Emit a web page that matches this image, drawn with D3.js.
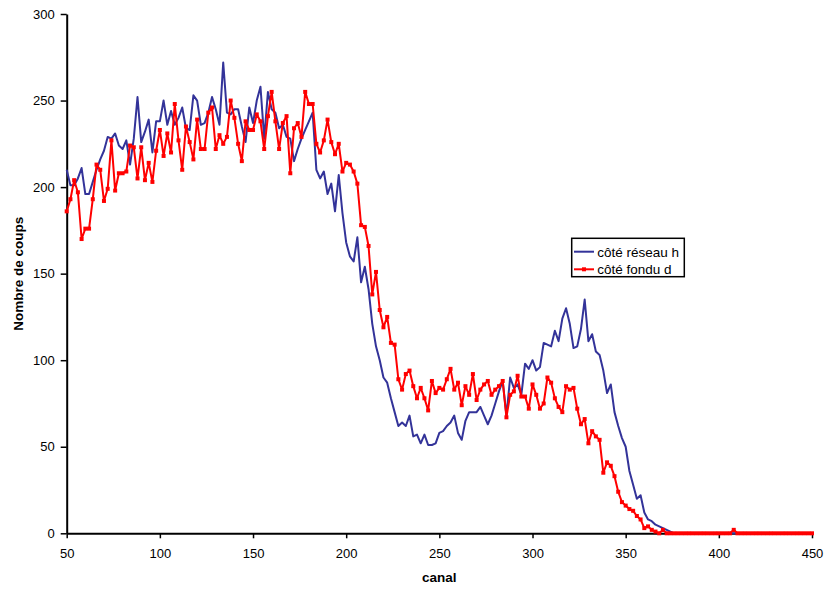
<!DOCTYPE html>
<html>
<head>
<meta charset="utf-8">
<script src="https://cdn.jsdelivr.net/npm/d3@7"></script>
<style>
  body { margin: 0; background: #fff; }
  svg { display: block; font-family: "Liberation Sans", Arial, sans-serif; }
</style>
</head>
<body>
<svg id="chart" width="826" height="590"></svg>
<script>
// channel (x) values: 50..450 step 2
const channels = d3.range(50, 451, 2);

// série "côté réseau h"
const reseauH = [
  210,201,201,205,211,196,196,203,210,216,
  221,229,228,231,224,222,227,213,228,252,
  226,232,239,220,238,238,250,236,244,236,
  240,246,234,233,253,250,236,237,243,252,
  245,236,272,243,242,245,245,235,226,246,
  237,250,258,228,255,245,243,234,236,229,
  228,215,222,228,233,238,243,210,205,209,
  196,202,186,207,185,168,160,157,171,145,
  154,141,121,108,100,90,87,78,70,62,
  64,62,68,56,57,52,57,51,51,52,
  58,59,62,64,68,58,54,65,70,70,
  70,73,68,63,68,75,82,88,68,90,
  84,86,80,98,95,100,94,96,110,109,
  108,117,111,124,130,121,107,108,118,135,
  111,115,105,103,94,81,86,70,62,55,
  50,36,28,20,22,12,8,7,5,4,
  3,2,1,0,0,0,0,0,0,0,
  0,0,0,0,0,0,0,0,0,0,
  0,0,0,0,0,0,0,0,0,0,
  0,0,0,0,0,0,0,0,0,0,
  0
];

// série "côté fondu d"
const fonduD = [
  186,193,204,197,170,176,176,193,213,210,
  192,199,227,198,208,208,209,224,223,205,
  223,204,214,203,221,233,218,231,220,248,
  227,210,235,226,216,239,222,222,243,246,
  222,230,225,229,250,240,225,215,238,233,
  233,242,238,222,241,255,238,222,237,241,
  208,234,237,229,255,248,248,225,220,227,
  239,226,219,225,209,214,213,209,202,178,
  177,166,138,151,129,119,125,110,109,89,
  83,92,94,85,78,84,78,71,88,81,
  84,83,89,95,83,87,74,85,80,92,
  77,83,86,88,80,83,85,88,67,80,
  82,91,79,79,72,86,80,72,75,90,
  87,78,73,70,85,83,84,72,63,66,
  52,59,56,54,35,41,39,33,24,18,
  16,14,13,10,8,3,4,2,1,0,
  2,0,0,0,0,0,0,0,0,0,
  0,0,0,0,0,0,0,0,0,2,
  0,0,0,0,0,0,0,0,0,0,
  0,0,0,0,0,0,0,0,0,0,
  0
];

const xTicks = [50,100,150,200,250,300,350,400,450];
const yTicks = [0,50,100,150,200,250,300];
const seriesNames = ["côté réseau h", "côté fondu d"];
const xTitle = "canal";
const yTitle = "Nombre de coups";

const svg = d3.select("#chart");
const x = d3.scaleLinear().domain([50, 450]).range([66.7, 812]);
const y = d3.scaleLinear().domain([0, 300]).range([533.3, 14]);

// axes
const gy = svg.append("g").attr("transform", `translate(${x(50)},0)`)
  .call(d3.axisLeft(y).tickValues(yTicks).tickSize(6).tickSizeOuter(0).tickPadding(6));
const gx = svg.append("g").attr("transform", `translate(0,${y(0)})`)
  .call(d3.axisBottom(x).tickValues(xTicks).tickSize(5).tickSizeOuter(0).tickPadding(10));
[gx, gy].forEach(g => {
  g.select(".domain").attr("stroke", "#000").attr("stroke-width", 2);
  g.selectAll(".tick line").attr("stroke", "#000").attr("stroke-width", 1.5);
  g.selectAll(".tick text").attr("fill", "#000").style("font-size", "13px")
    .style("font-family", '"Liberation Sans", Arial, sans-serif');
});

const line = d3.line().x((d, i) => x(channels[i])).y(d => y(d));

// blue series
svg.append("path").datum(reseauH)
  .attr("fill", "none").attr("stroke", "#333399").attr("stroke-width", 2)
  .attr("stroke-linejoin", "round").attr("d", line);

// red series with square markers
svg.append("path").datum(fonduD)
  .attr("fill", "none").attr("stroke", "#ff0000").attr("stroke-width", 2)
  .attr("stroke-linejoin", "round").attr("d", line);
svg.append("g").selectAll("rect").data(fonduD).join("rect")
  .attr("x", (d, i) => x(channels[i]) - 2)
  .attr("y", d => y(d) - 2)
  .attr("width", 4).attr("height", 4)
  .attr("fill", "#ff0000");

// axis titles
svg.append("text").attr("x", (x(50) + x(450)) / 2).attr("y", 582)
  .attr("text-anchor", "middle").style("font-size", "13.5px").style("font-weight", "bold")
  .text(xTitle);
svg.append("text")
  .attr("transform", `translate(23,${(y(0) + y(300)) / 2}) rotate(-90)`)
  .attr("text-anchor", "middle").style("font-size", "13.5px").style("font-weight", "bold")
  .text(yTitle);

// legend
const lg = svg.append("g");
lg.append("rect").attr("x", 571.7).attr("y", 238.3).attr("width", 112.6).attr("height", 38.4)
  .attr("fill", "#fff").attr("stroke", "#000").attr("stroke-width", 1.5);
lg.append("line").attr("x1", 574).attr("x2", 594).attr("y1", 251.7).attr("y2", 251.7)
  .attr("stroke", "#333399").attr("stroke-width", 2);
lg.append("line").attr("x1", 574).attr("x2", 594).attr("y1", 269.3).attr("y2", 269.3)
  .attr("stroke", "#ff0000").attr("stroke-width", 2);
lg.append("rect").attr("x", 582).attr("y", 267.3).attr("width", 4).attr("height", 4).attr("fill", "#ff0000");
lg.append("text").attr("x", 597.3).attr("y", 256.7).style("font-size", "13.5px").text(seriesNames[0]);
lg.append("text").attr("x", 597.3).attr("y", 274).style("font-size", "13.5px").text(seriesNames[1]);
</script>
</body>
</html>
